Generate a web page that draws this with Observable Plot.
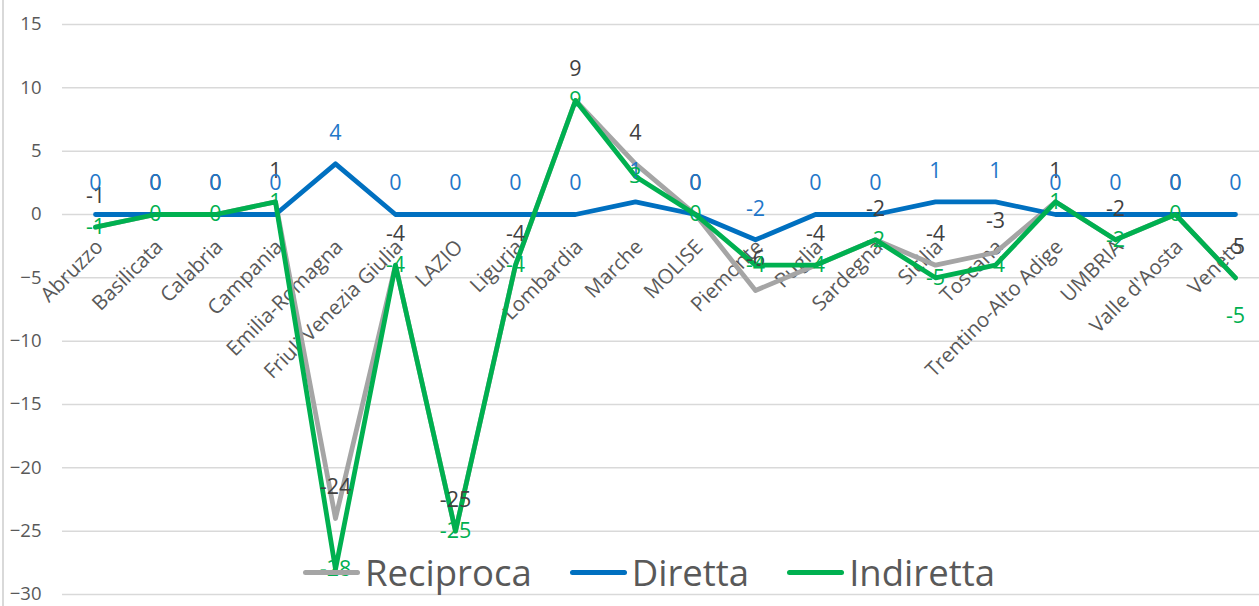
<!DOCTYPE html>
<html>
<head>
<meta charset="utf-8">
<script src="https://cdn.jsdelivr.net/npm/d3@7"></script>
<script src="https://cdn.jsdelivr.net/npm/@observablehq/plot@0.6"></script>
<style>
html, body { margin: 0; padding: 0; background: #fff; }
#wrap { position: relative; width: 1259px; height: 606px; overflow: hidden; font-family: "Open Sans", sans-serif; }
#border { position: absolute; left: 2px; top: 0; bottom: 0; width: 2px; background: #d9d9d9; }
#legend { position: absolute; left: 303px; top: 546px; height: 52px; display: flex; align-items: center; gap: 38px; font-family: "Open Sans", sans-serif; font-size: 36.5px; color: #595959; white-space: nowrap; }
#legend .item { display: flex; align-items: center; }
#legend .sw { width: 57px; height: 5px; border-radius: 3px; margin-right: 5px; }
svg { display: block; }
</style>
</head>
<body>
<div id="wrap"><div id="chart"></div><div id="border"></div><div id="legend"></div></div>
<script>
const regions = ["Abruzzo","Basilicata","Calabria","Campania","Emilia-Romagna","Friuli Venezia Giulia","LAZIO","Liguria","Lombardia","Marche","MOLISE","Piemonte","Puglia","Sardegna","Sicilia","Toscana","Trentino-Alto Adige","UMBRIA","Valle d'Aosta","Veneto"];
const reciproca = [-1, 0, 0, 1, -24, -4, -25, -4, 9, 4, 0, -6, -4, -2, -4, -3, 1, -2, 0, -5];
const diretta   = [0, 0, 0, 0, 4, 0, 0, 0, 0, 1, 0, -2, 0, 0, 1, 1, 0, 0, 0, 0];
const indiretta = [-1, 0, 0, 1, -28, -4, -25, -4, 9, 3, 0, -4, -4, -2, -5, -4, 1, -2, 0, -5];
const seriesNames = ["Reciproca", "Diretta", "Indiretta"];
const lineColors = ["#A5A5A5", "#0070C0", "#00B050"];
const labelColors = ["#404040", "#1F77C9", "#00B050"];
const yTicks = [-30, -25, -20, -15, -10, -5, 0, 5, 10, 15];

const seriesValues = [reciproca, diretta, indiretta];
const table = seriesNames.map((name, s) => regions.map((r, i) => ({series: name, region: r, value: seriesValues[s][i], i})));
const labelDy = [-31, -31, 0];
const FONT = "Open Sans";

const marks = [
  Plot.gridY(yTicks, {stroke: "#d9d9d9", strokeOpacity: 1, strokeWidth: 1.5}),
  Plot.axisY(yTicks, {tickSize: 0, tickPadding: 21, fontSize: 18.5, fill: "#595959", fontFamily: FONT, label: null}),
  Plot.text(regions, {x: d => d, y: () => 0, text: d => d, rotate: -45, textAnchor: "end", dx: 4, dy: 29, fontSize: 20.5, fill: "#595959", fontFamily: FONT})
];
table.forEach((rows, s) => {
  marks.push(Plot.line(rows, {x: "region", y: "value", stroke: lineColors[s], strokeWidth: 4.8, strokeLinejoin: "round", strokeLinecap: "round"}));
});
table.forEach((rows, s) => {
  const last = rows.length - 1;
  // Excel moved the last Indiretta label below its point; every other label keeps its series offset
  const normal = s === 2 ? rows.filter(d => d.i !== last) : rows;
  marks.push(Plot.text(normal, {x: "region", y: "value", text: d => String(d.value), dy: labelDy[s], fill: labelColors[s], fontSize: 21.5, fontFamily: FONT}));
  if (s === 2) {
    marks.push(Plot.text(rows.filter(d => d.i === last), {x: "region", y: "value", text: d => String(d.value), dy: 38, fill: labelColors[s], fontSize: 21.5, fontFamily: FONT}));
  }
});

const chart = Plot.plot({
  width: 1259, height: 606,
  marginLeft: 62, marginRight: 0, marginTop: 0, marginBottom: 0,
  x: {type: "point", domain: regions, range: [92, 1238], padding: 0, axis: null},
  y: {domain: [-30, 15], range: [594, 24], axis: null},
  style: {background: "transparent", fontFamily: FONT},
  marks
});
document.getElementById("chart").appendChild(chart);

const legend = document.getElementById("legend");
seriesNames.forEach((n, s) => {
  const it = document.createElement("div");
  it.className = "item";
  const sw = document.createElement("div");
  sw.className = "sw";
  sw.style.background = lineColors[s];
  const tx = document.createElement("span");
  tx.textContent = n;
  it.appendChild(sw); it.appendChild(tx);
  legend.appendChild(it);
});
</script>
</body>
</html>
